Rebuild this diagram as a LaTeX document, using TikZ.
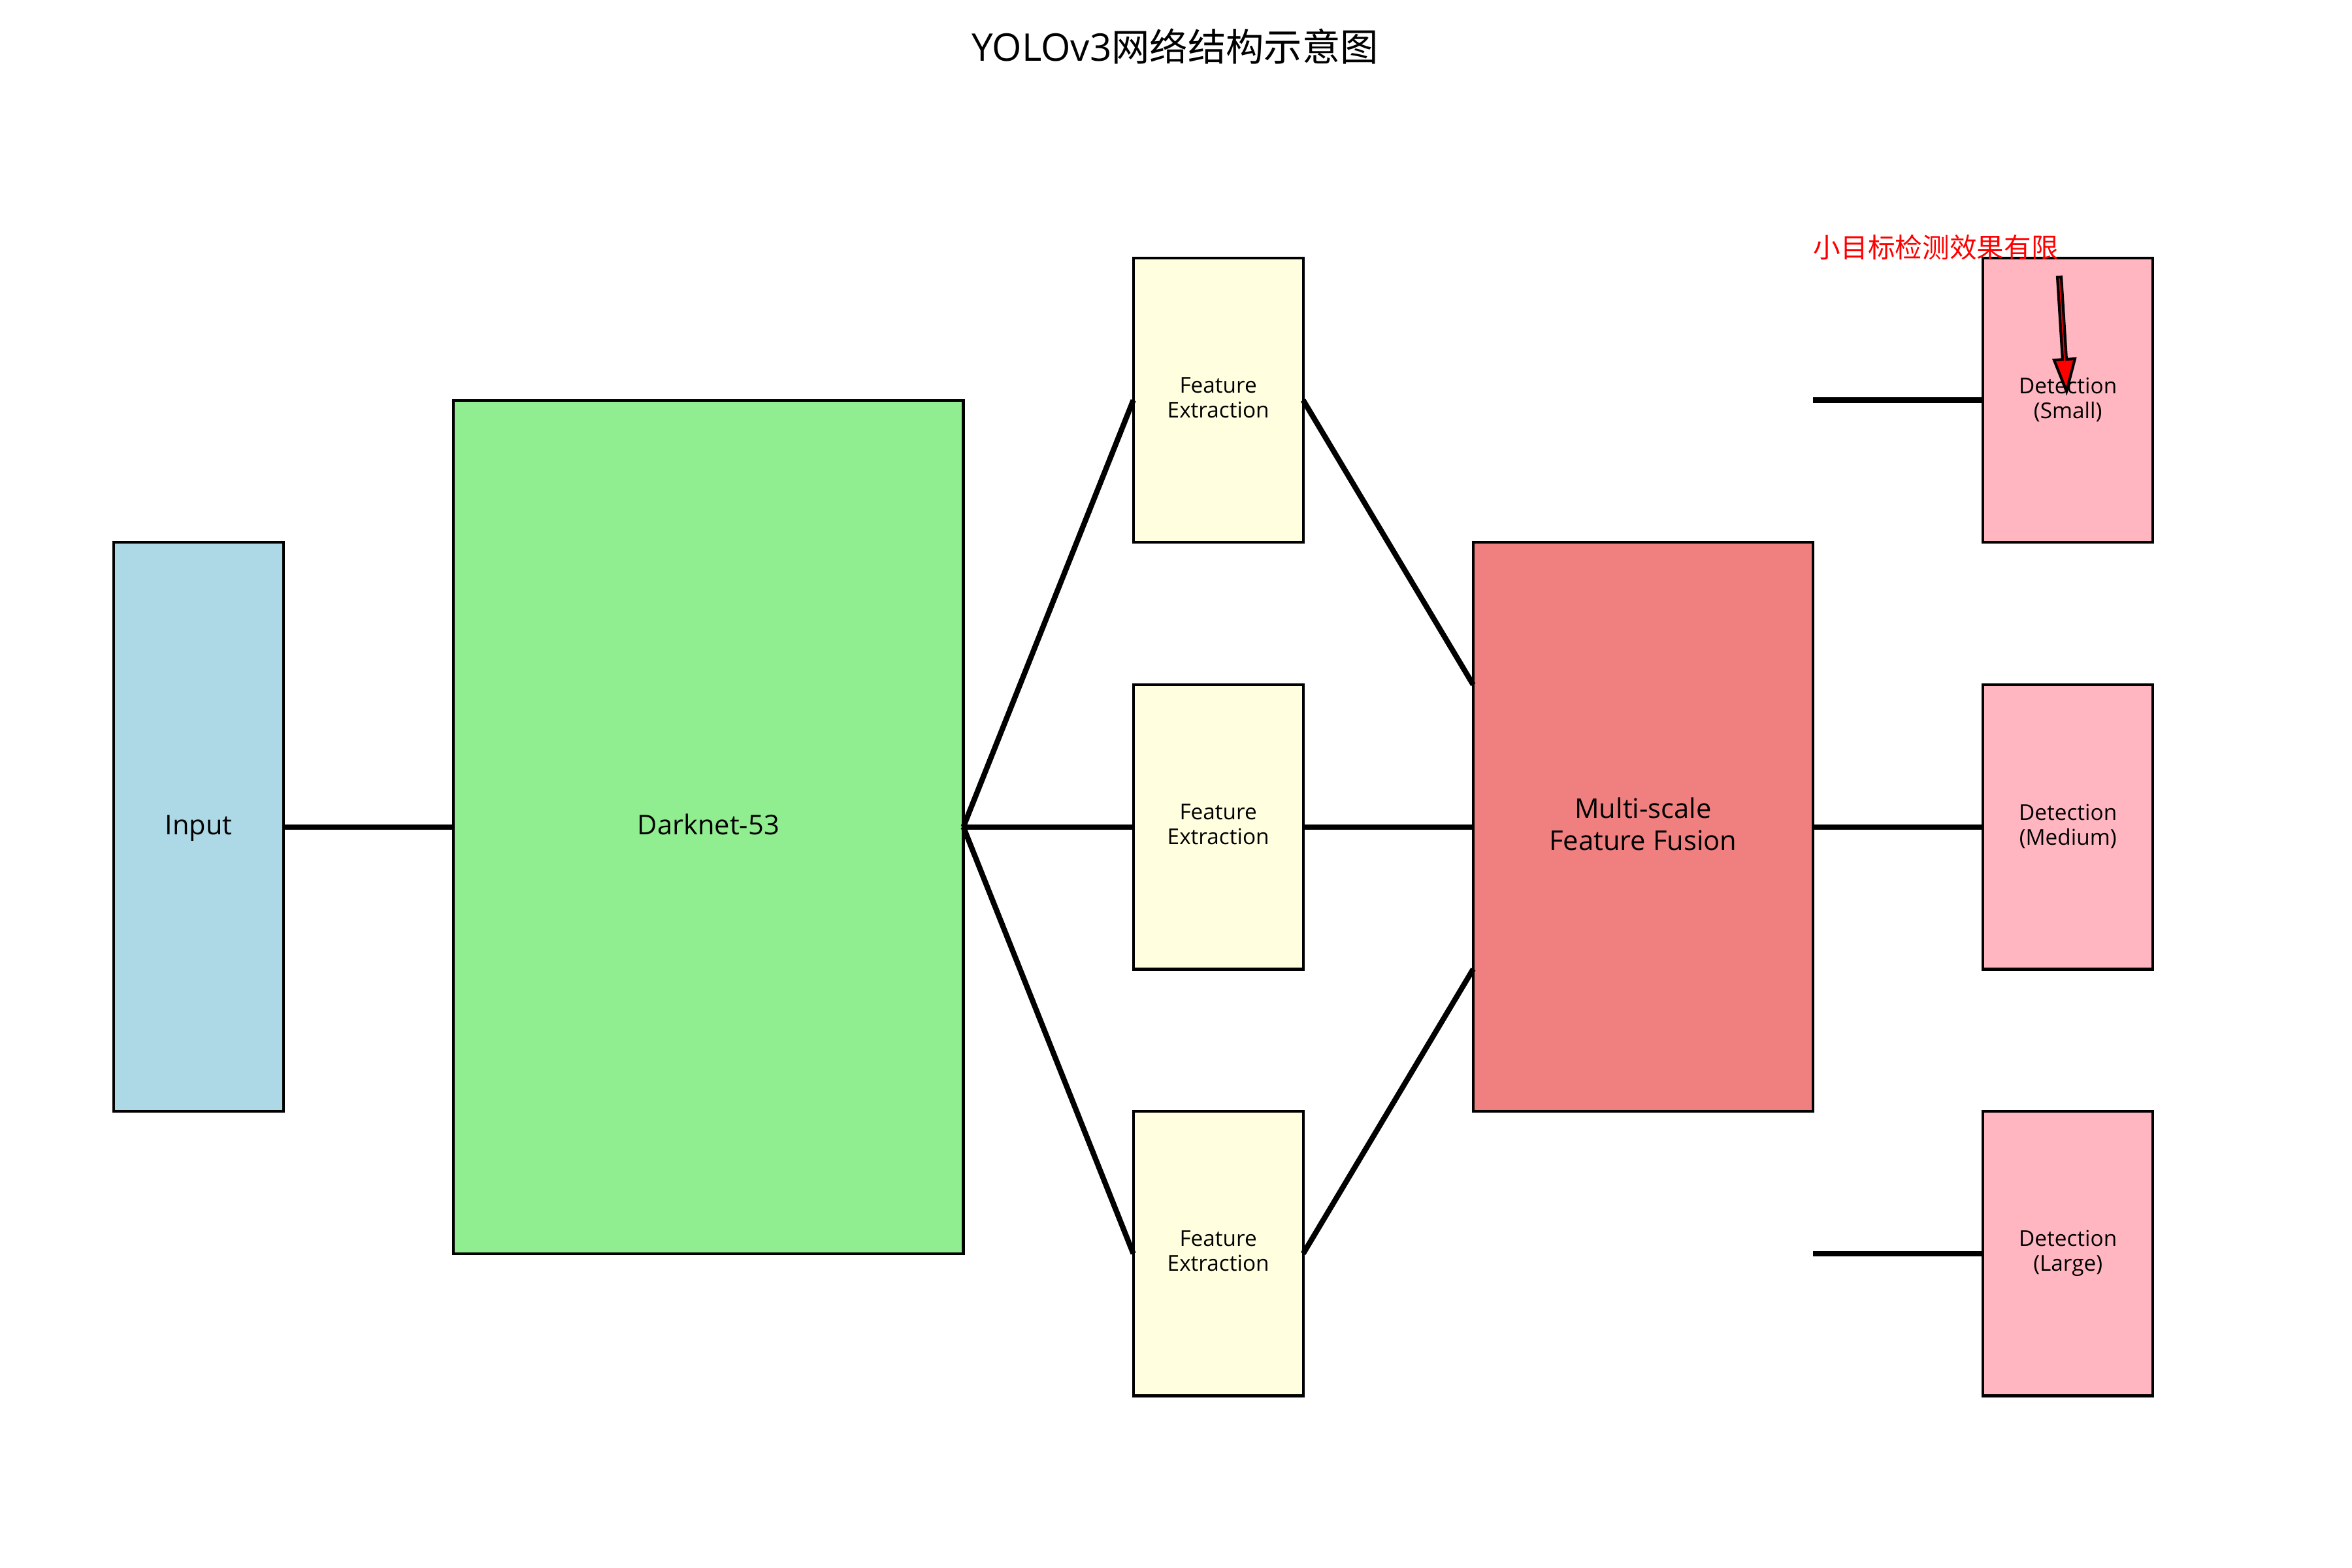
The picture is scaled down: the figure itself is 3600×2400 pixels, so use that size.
\documentclass[tikz,border=0pt]{standalone}
\usepackage{fontspec}
\setmainfont{Open Sans}
\newfontfamily\cjk{Noto Sans CJK SC}
\usetikzlibrary{calc}
\definecolor{inputc}{HTML}{ADD8E6}
\definecolor{darkc}{HTML}{90EE90}
\definecolor{featc}{HTML}{FFFFE0}
\definecolor{fusec}{HTML}{F08080}
\definecolor{detc}{HTML}{FFB6C1}
\begin{document}
\begin{tikzpicture}[x=0.24pt,y=-0.24pt,
  box/.style={draw=black,line width=1pt,rectangle,inner sep=0pt,outer sep=0pt},
  narrowbox/.style={box,minimum width=62.42pt,minimum height=104.5pt},
  conn/.style={line width=2pt,line cap=butt},
  biglbl/.style={font=\fontsize{10}{11.8}\selectfont,align=center,inner sep=0pt},
  smalllbl/.style={font=\fontsize{8}{9.2}\selectfont,align=center,inner sep=0pt}]
\fill[white] (0,0) rectangle (3600,2400);
\useasboundingbox (0,0) rectangle (3600,2400);

% title
\node[anchor=base,font=\fontsize{14}{16.8}\selectfont,inner sep=0pt] (title) at (1798.5,94) {YOLOv3{\cjk 网络结构示意图}};

% boxes
\node[box,fill=inputc,minimum width=62.42pt,minimum height=209pt] (input) at (304.05,1265.7) {};
\node[box,fill=darkc,minimum width=187.27pt,minimum height=313.49pt] (dark) at (1084.35,1265.7) {};
\node[narrowbox,fill=featc] (fe1) at (1864.65,612.6) {};
\node[narrowbox,fill=featc] (fe2) at (1864.65,1265.7) {};
\node[narrowbox,fill=featc] (fe3) at (1864.65,1918.8) {};
\node[box,fill=fusec,minimum width=124.85pt,minimum height=209pt] (fusion) at (2514.9,1265.7) {};
\node[narrowbox,fill=detc] (det1) at (3165.15,612.6) {};
\node[narrowbox,fill=detc] (det2) at (3165.15,1265.7) {};
\node[narrowbox,fill=detc] (det3) at (3165.15,1918.8) {};

% labels
\node[biglbl,yshift=-0.5pt] (inputlbl) at (input.center) {Input};
\node[biglbl,yshift=0.9pt] (darklbl) at (dark.center) {Darknet-53};
\node[smalllbl,yshift=0.9pt] (fe1lbl) at (fe1.center) {Feature\\Extraction};
\node[smalllbl,yshift=0.9pt] (fe2lbl) at (fe2.center) {Feature\\Extraction};
\node[smalllbl,yshift=0.9pt] (fe3lbl) at (fe3.center) {Feature\\Extraction};
\node[biglbl,yshift=1pt] (fuselbl) at (fusion.center) {Multi-scale\\Feature Fusion};
\node[smalllbl,yshift=0.2pt] (det1lbl) at (det1.center) {Detection\\(Small)};
\node[smalllbl,yshift=0.2pt] (det2lbl) at (det2.center) {Detection\\(Medium)};
\node[smalllbl,yshift=0.2pt] (det3lbl) at (det3.center) {Detection\\(Large)};

% connectors
\draw[conn] (input.east) -- (dark.west);
\draw[conn] (dark.east) -- (fe1.west);
\draw[conn] (dark.east) -- (fe2.west);
\draw[conn] (dark.east) -- (fe3.west);
\draw[conn] (fe1.east) -- ($(fusion.north west)!0.25!(fusion.south west)$);
\draw[conn] (fe2.east) -- (fusion.west);
\draw[conn] (fe3.east) -- ($(fusion.north west)!0.75!(fusion.south west)$);
\draw[conn] (fusion.east |- det1.west) -- (det1.west);
\draw[conn] (fusion.east) -- (det2.west);
\draw[conn] (fusion.east |- det3.west) -- (det3.west);

% annotation
\node[anchor=base west,text=red,font=\cjk\fontsize{10}{12}\selectfont,inner sep=0pt] (note) at (2775,394) {小目标检测效果有限};
\coordinate (arrTail) at (3152,424);
\coordinate (arrTip) at (3163,599);
\coordinate (arrBase) at ($(arrTip)!11.76pt!(arrTail)$);
\filldraw[fill=red,draw=black,line width=1pt,line join=miter]
  ($(arrTail)!0.72pt!90:(arrTip)$) -- ($(arrBase)!0.72pt!90:(arrTip)$)
  -- ($(arrBase)!3.84pt!90:(arrTip)$) -- (arrTip)
  -- ($(arrBase)!3.84pt!-90:(arrTip)$) -- ($(arrBase)!0.72pt!-90:(arrTip)$)
  -- ($(arrTail)!0.72pt!-90:(arrTip)$) -- cycle;
\end{tikzpicture}
\end{document}
